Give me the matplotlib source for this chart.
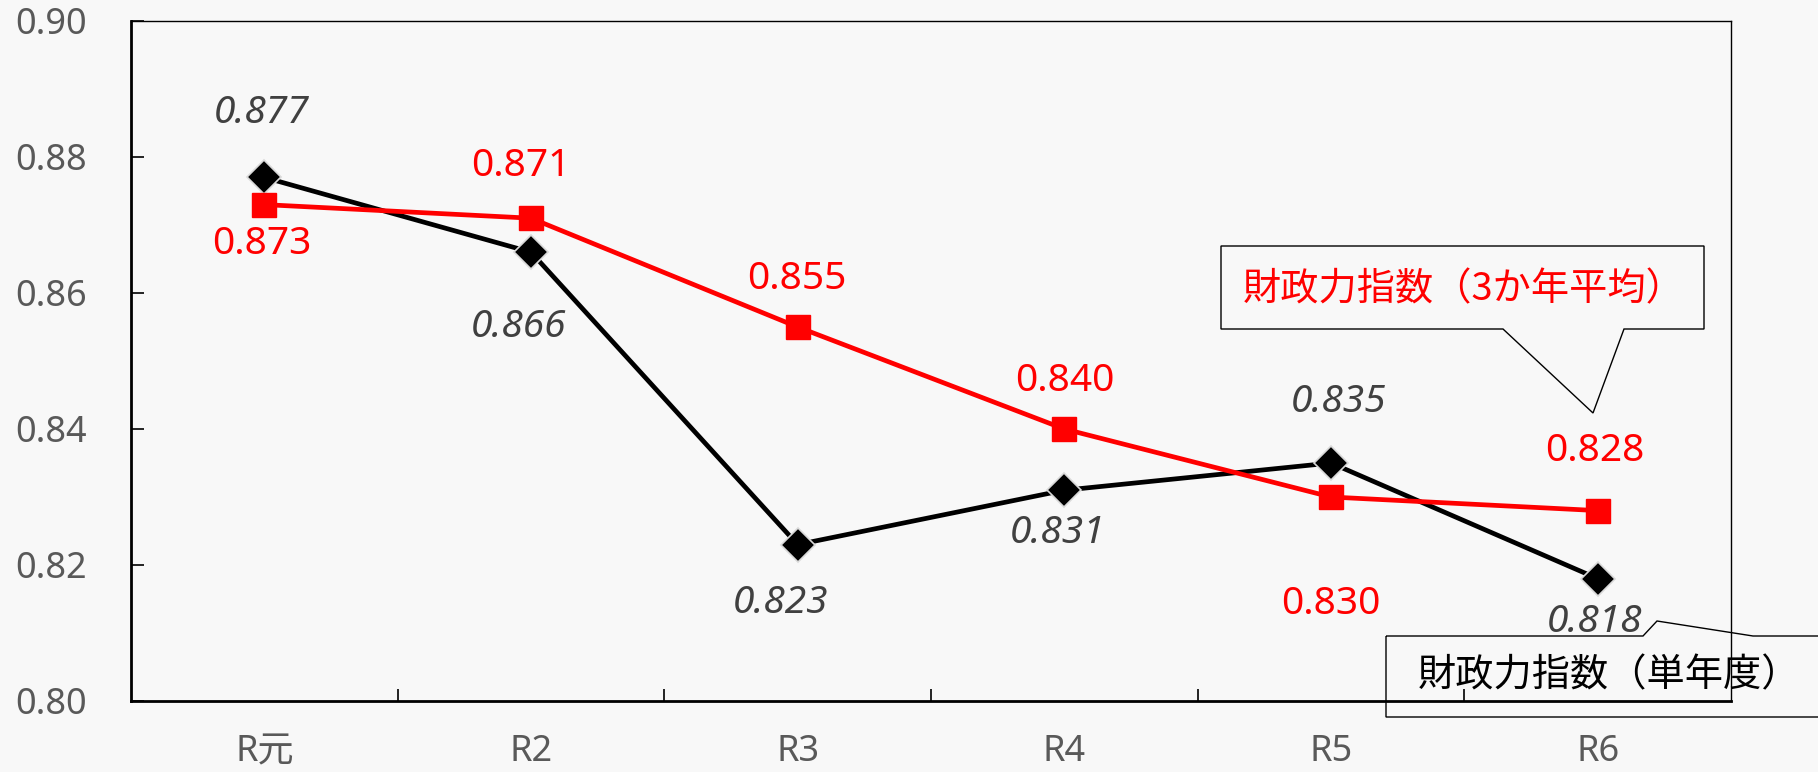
import matplotlib.pyplot as plt
from matplotlib.patches import Polygon
from matplotlib.ticker import FixedLocator, MultipleLocator

plt.rcParams['font.family'] = ['Noto Sans', 'Noto Sans CJK JP', 'DejaVu Sans']

years = ['R元', 'R2', 'R3', 'R4', 'R5', 'R6']
single_year = [0.877, 0.866, 0.823, 0.831, 0.835, 0.818]
three_year_avg = [0.873, 0.871, 0.855, 0.840, 0.830, 0.828]

# label offsets in pixels (dx, dy) for each point
single_offsets = [(-3, 64), (-12, -75), (-17, -58), (-7, -43), (8, 61), (-3, -43)]
avg_offsets = [(-3, -39), (-10, 52), (-1, 48), (0, 48), (0, -107), (-3, 60)]

W, H = 1818, 772
BG = '#f8f8f8'
GRAY = '#595959'

fig = plt.figure(figsize=(W / 100, H / 100), dpi=100, facecolor=BG)
ax = fig.add_axes([131 / W, 1 - 701 / H, 1600 / W, 680 / H], facecolor=BG)

x = range(len(years))
ax.plot(x, single_year, color='black', lw=3.4, marker='D', ms=17,
        mfc='black', mec='#d9d9d9', mew=1.2, zorder=3)
ax.plot(x, three_year_avg, color='#ff0000', lw=3.4, marker='s', ms=17,
        mfc='#ff0000', mec='#ff0000', zorder=4)

for i, v in enumerate(single_year):
    ax.annotate(f'{v:.3f}', (i, v), xytext=single_offsets[i], textcoords='offset pixels',
                ha='center', va='center', fontsize=28, style='italic', color='#404040')
for i, v in enumerate(three_year_avg):
    ax.annotate(f'{v:.3f}', (i, v), xytext=avg_offsets[i], textcoords='offset pixels',
                ha='center', va='center', fontsize=28, color='#ff0000')

ax.set_xlim(-0.5, len(years) - 0.5)
ax.set_ylim(0.80, 0.90)
ax.set_xticks(list(x))
ax.set_xticklabels(years)
ax.xaxis.set_minor_locator(FixedLocator([i + 0.5 for i in range(len(years) - 1)]))
ax.yaxis.set_major_locator(MultipleLocator(0.02))
ax.yaxis.set_major_formatter(lambda v, _: f'{v:.2f}')

ax.tick_params(axis='x', which='major', length=0, pad=24, labelsize=26, labelcolor=GRAY)
ax.tick_params(axis='x', which='minor', direction='in', length=9, width=1.2, color='black')
ax.tick_params(axis='y', direction='in', length=9, width=1.2, pad=32, labelsize=26,
               labelcolor=GRAY)
for side in ['left', 'bottom']:
    ax.spines[side].set_linewidth(2.0)
for side in ['top', 'right']:
    ax.spines[side].set_linewidth(1.0)


def px(pts):
    return [(a / W, 1 - b / H) for a, b in pts]


# callout for the 3-year average line
avg_box = [(1221, 246), (1704, 246), (1704, 329), (1624, 329), (1593, 413),
           (1503, 329), (1221, 329)]
fig.add_artist(Polygon(px(avg_box), closed=True, fill=False, ec='black', lw=1.0,
                       transform=fig.transFigure))
fig.text(1243 / W, 1 - 290 / H, '財政力指数（3か年平均）', fontsize=27.5,
         color='#ff0000', ha='left', va='center', family=['Noto Sans CJK JP'])

# callout for the single-year line
single_box = [(1386, 636), (1643, 636), (1657, 621), (1753, 636), (1830, 636),
              (1830, 717), (1386, 717)]
fig.add_artist(Polygon(px(single_box), closed=True, fill=False, ec='black', lw=1.0,
                       transform=fig.transFigure))
fig.text(1418 / W, 1 - 676 / H, '財政力指数（単年度）', fontsize=27.5,
         color='black', ha='left', va='center', family=['Noto Sans CJK JP'])

fig.savefig('out.png', dpi=100, facecolor=BG)
